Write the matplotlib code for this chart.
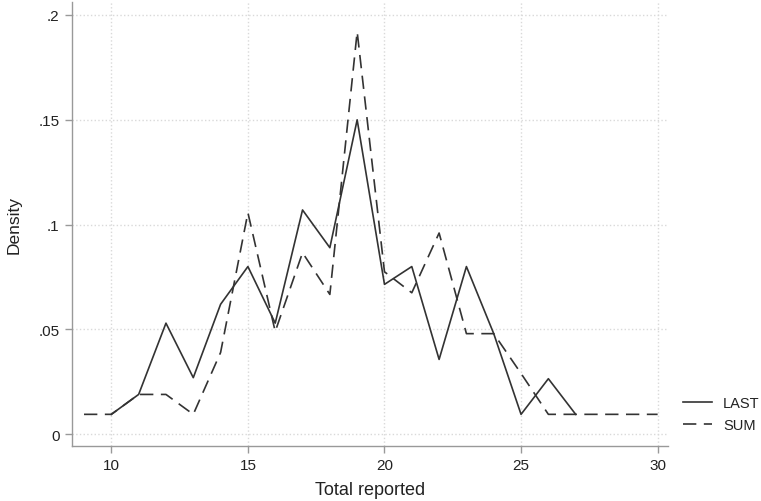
import matplotlib
matplotlib.use("Agg")
import matplotlib.pyplot as plt

plt.rcParams['font.family'] = ['Liberation Sans', 'DejaVu Sans']

last_x = [10, 11, 12, 13, 14, 15, 16, 17, 18, 19, 20, 21, 22, 23, 24, 25, 26, 27]
last_y = [0.0095, 0.019, 0.053, 0.027, 0.062, 0.080, 0.053, 0.107, 0.089, 0.150,
          0.0715, 0.080, 0.0357, 0.080, 0.048, 0.0095, 0.0265, 0.0095]
sum_x = [9, 10, 11, 12, 13, 14, 15, 16, 17, 18, 19, 20, 21, 22, 23, 24, 25, 26, 27, 28, 29, 30]
sum_y = [0.0095, 0.0095, 0.019, 0.019, 0.0095, 0.039, 0.1057, 0.049, 0.0866, 0.0667, 0.192,
         0.0775, 0.0675, 0.096, 0.048, 0.048, 0.029, 0.0095, 0.0095, 0.0095, 0.0095, 0.0095]
xticks = [10, 15, 20, 25, 30]
yticks = [0, 0.05, 0.1, 0.15, 0.2]
ytick_labels = ['0', '.05', '.1', '.15', '.2']

W, H = 761, 502
fig = plt.figure(figsize=(W / 100, H / 100), dpi=100)
ax = fig.add_axes([72 / W, 1 - 447 / H, (668 - 72) / W, (447 - 3) / H])

ax.plot(last_x, last_y, color='#333333', lw=1.2, label='LAST')
ax.plot(sum_x, sum_y, color='#333333', lw=1.2, ls=(0, (8, 4.5)), label='SUM')

ax.set_xlim(8.56, 30.38)
ax.set_ylim(-0.0056, 0.2062)
ax.set_xticks(xticks)
ax.set_yticks(yticks)
ax.set_yticklabels(ytick_labels)
ax.grid(True, color='#d9d9d9', ls=':', lw=1.0)
ax.set_axisbelow(True)

for s in ['top', 'right']:
    ax.spines[s].set_visible(False)
for s in ['left', 'bottom']:
    ax.spines[s].set_color('#999999')
    ax.spines[s].set_linewidth(1.0)
ax.tick_params(axis='both', colors='#999999', labelcolor='#222222', labelsize=11,
               direction='out', length=5, width=1.0, pad=4)

ax.set_xlabel('Total reported', fontsize=13, color='#222222', labelpad=6)
ax.set_ylabel('Density', fontsize=12.5, color='#222222', labelpad=12)

handles, labels = ax.get_legend_handles_labels()
leg = fig.legend(handles, labels, loc='center left', bbox_to_anchor=(683 / W, 1 - 415 / H),
                 frameon=False, fontsize=10.5, handlelength=2.0, handletextpad=0.75,
                 labelspacing=0.5, borderpad=0, borderaxespad=0)
for t in leg.get_texts():
    t.set_color('#222222')

fig.savefig('out.png', dpi=100)
